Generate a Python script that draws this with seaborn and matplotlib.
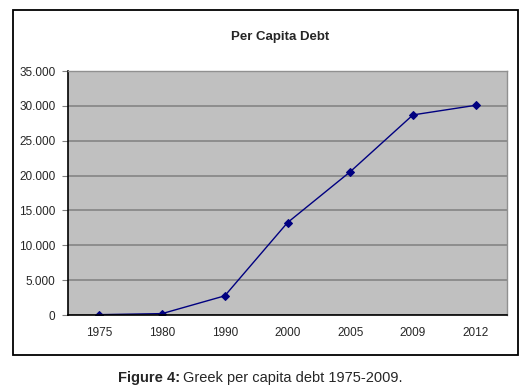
import matplotlib
matplotlib.use('Agg')
import matplotlib.pyplot as plt
import matplotlib.ticker as mticker
from matplotlib.patches import Rectangle
import seaborn as sns
import pandas as pd
import numpy as np

years = ['1975', '1980', '1990', '2000', '2005', '2009', '2012']
debt = [50, 200, 2750, 13250, 20550, 28700, 30080]
y_ticks = [0, 5000, 10000, 15000, 20000, 25000, 30000, 35000]

data = pd.DataFrame({'year': years, 'debt': debt})

sns.set_style('white')
plt.rcParams['font.family'] = ['Liberation Sans', 'DejaVu Sans']

fig = plt.figure(figsize=(5.3, 3.92), dpi=100)

# outer chart frame (Excel style), kept behind the axes
fig.patches.append(Rectangle(
    (13 / 530, 1 - 355 / 392), 505 / 530, 345 / 392,
    transform=fig.transFigure, facecolor='white',
    edgecolor='black', linewidth=1.3, zorder=-1
))

ax = fig.add_axes([68 / 530, 1 - 315 / 392, 439 / 530, 244 / 392])
ax.set_facecolor('#C0C0C0')

sns.lineplot(
    data=data,
    x='year',
    y='debt',
    color='#000080',
    marker='D',
    markersize=4,
    markeredgecolor='#000080',
    linewidth=1.0,
    sort=False,
    ax=ax
)

ax.set_xlim(-0.5, len(years) - 0.5)
ax.set_ylim(0, 35000)
ax.set_yticks(y_ticks)
ax.yaxis.set_major_formatter(
    mticker.FuncFormatter(lambda v, p: f'{int(v):,}'.replace(',', '.'))
)
ax.grid(axis='y', color='#808080', linewidth=1.1)
ax.set_axisbelow(True)

ax.set_xticks(range(len(years)))
ax.set_xticklabels(years)
ax.set_xticks(np.arange(-0.5, len(years)), minor=True)
ax.tick_params(axis='x', which='major', length=0, pad=9, labelsize=8.5)
ax.tick_params(axis='x', which='minor', length=4, width=0.8, color='#808080')
ax.tick_params(axis='y', length=4, width=0.8, color='#808080', pad=5, labelsize=8.5,
               left=True)

for side in ['top', 'right']:
    ax.spines[side].set_color('#909090')
    ax.spines[side].set_linewidth(1.0)
for side in ['left', 'bottom']:
    ax.spines[side].set_color('black')
    ax.spines[side].set_linewidth(1.2)

ax.set_xlabel('')
ax.set_ylabel('')

fig.text(280 / 530, 1 - 37 / 392, 'Per Capita Debt', ha='center', va='center',
         fontsize=9.5, fontweight='bold')

fig.text(180 / 530, 1 - 378 / 392, 'Figure 4:', ha='right', va='center',
         fontsize=10.5, fontweight='bold')
fig.text(183 / 530, 1 - 378 / 392, 'Greek per capita debt 1975-2009.', ha='left',
         va='center', fontsize=10.5)

fig.savefig('out.png', dpi=100)
